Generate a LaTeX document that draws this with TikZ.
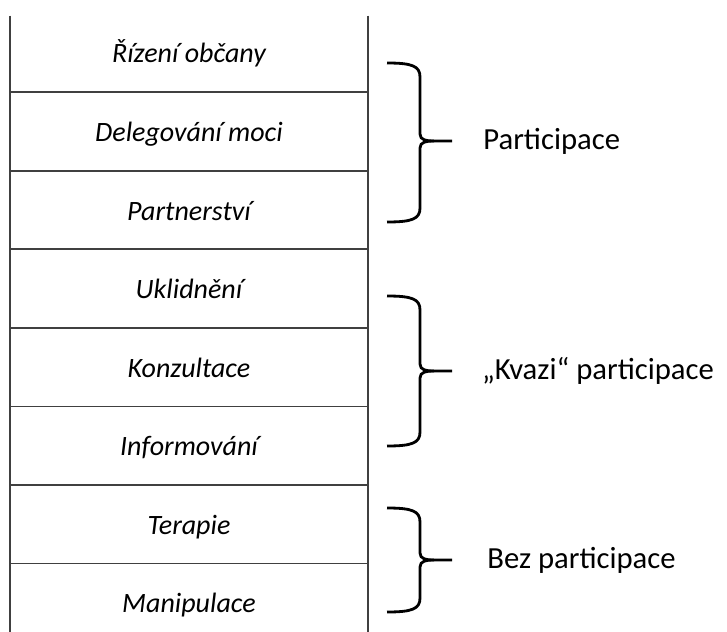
\documentclass[tikz,border=0pt]{standalone}
\usepackage{fontspec}
\setmainfont{Carlito}
\usepackage{tikz}
\usetikzlibrary{positioning}

\tikzset{
  rung/.style = {minimum width=268.5pt, minimum height=58.5pt, inner sep=0pt,
                 text height=16pt, text depth=1pt,
                 font=\fontsize{21}{25}\selectfont\itshape},
  rail/.style = {line width=1.3pt, black!75},
  brace/.style = {line width=2.1pt, black, line join=round},
  group/.style = {anchor=west, font=\fontsize{23}{28}\selectfont}
}

% right brace between two rungs, tip pointing at the label
\newcommand{\zavorka}[3]{%
  \draw[brace] (387,#1) .. controls (412,#1) and (420,{#1+3}) .. (420,{#1+14})
    -- (420,{#3-7}) .. controls (420,{#3-1}) and (426,#3) .. (434,#3) -- (452,#3);
  \draw[brace] (387,#2) .. controls (412,#2) and (420,{#2-3}) .. (420,{#2-14})
    -- (420,{#3+7}) .. controls (420,{#3+1}) and (426,#3) .. (434,#3);
}

\begin{document}
\begin{tikzpicture}[x=0.75pt, y=-0.75pt]
  \useasboundingbox (0,0) rectangle (727,631);

  % the ladder
  \node[rung] (r1) at (189,53) {Řízení občany};
  \node[rung, below=0pt of r1] (r2) {Delegování moci};
  \node[rung, below=0pt of r2] (r3) {Partnerství};
  \node[rung, below=0pt of r3] (r4) {Uklidnění};
  \node[rung, below=0pt of r4] (r5) {Konzultace};
  \node[rung, below=0pt of r5] (r6) {Informování};
  \node[rung, below=0pt of r6] (r7) {Terapie};
  \node[rung, below=0pt of r7] (r8) {Manipulace};

  \draw[rail] ([yshift=-1.5pt]r1.north west) -- (r8.south west);
  \draw[rail] ([yshift=-1.5pt]r1.north east) -- (r8.south east);
  \foreach \i in {1,...,7}
    \draw[rail] (r\i.south west) -- (r\i.south east);

  % groups
  \zavorka{63}{222}{141}
  \zavorka{296}{446}{371}
  \zavorka{508}{612}{560}

  \coordinate (t1) at (452,141);
  \coordinate (t2) at (452,371);
  \coordinate (t3) at (452,560);
  \node[group, right=20pt of t1] (g1) {Participace};
  \node[group, right=19pt of t2] (g2) {„Kvazi“ participace};
  \node[group, right=23pt of t3] (g3) {Bez participace};
\end{tikzpicture}
\end{document}
